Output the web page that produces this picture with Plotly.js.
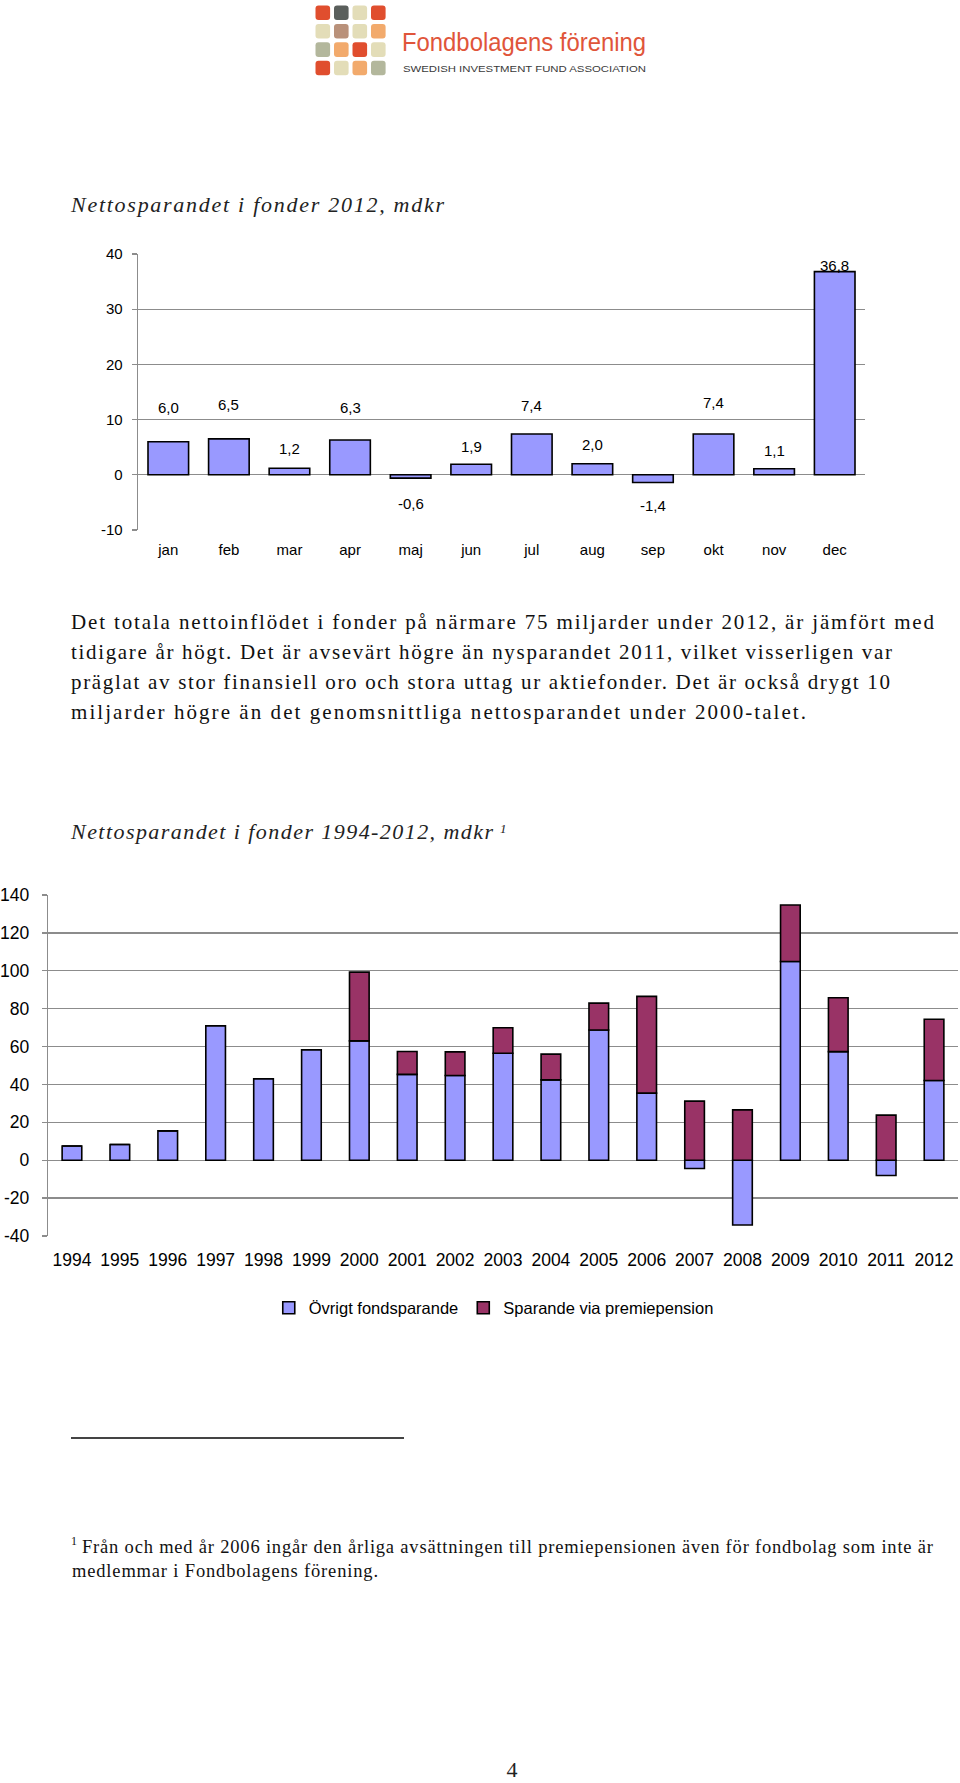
<!DOCTYPE html>
<html><head><meta charset="utf-8">
<script src="https://cdn.plot.ly/plotly-3.0.1.min.js"></script>
<style>
html,body{margin:0;padding:0;background:#fff;}
#page{position:relative;width:960px;height:1783px;overflow:hidden;background:#fff;}
#doc{position:absolute;left:0;top:0;}
#c1{position:absolute;left:0;top:230px;width:960px;height:340px;}
#c2{position:absolute;left:0;top:870px;width:960px;height:470px;}
</style></head><body>
<div id="page">
<svg id="doc" width="960" height="1783" xmlns="http://www.w3.org/2000/svg"></svg>
<div id="c1"></div>
<div id="c2"></div>
</div>
<script>
// ---------- DATA ----------
const months = ['jan','feb','mar','apr','maj','jun','jul','aug','sep','okt','nov','dec'];
const monthlyNet = [6.0, 6.5, 1.2, 6.3, -0.6, 1.9, 7.4, 2.0, -1.4, 7.4, 1.1, 36.8];

const years = ['1994','1995','1996','1997','1998','1999','2000','2001','2002','2003',
               '2004','2005','2006','2007','2008','2009','2010','2011','2012'];
const ovrigtFondsparande = [7.5, 8.3, 15.5, 71.0, 43.0, 58.3, 63.0, 45.3, 44.7, 56.5,
                            42.4, 68.7, 35.4, -4.4, -34.2, 104.9, 57.3, -8.1, 42.1];
const premiepension = [0, 0, 0, 0, 0, 0, 36.3, 12.1, 12.5, 13.4,
                       13.6, 14.2, 51.1, 31.2, 26.6, 29.8, 28.5, 23.8, 32.3];
const seriesNames = ['Övrigt fondsparande', 'Sparande via premiepension'];

const ticks1 = [-10, 0, 10, 20, 30, 40];
const ticks2 = [-40, -20, 0, 20, 40, 60, 80, 100, 120, 140];

const title1 = 'Nettosparandet i fonder 2012, mdkr';
const title2 = 'Nettosparandet i fonder 1994-2012, mdkr';
const paragraph = [
  'Det totala nettoinflödet i fonder på närmare 75 miljarder under 2012, är jämfört med',
  'tidigare år högt. Det är avsevärt högre än nysparandet 2011, vilket visserligen var',
  'präglat av stor finansiell oro och stora uttag ur aktiefonder. Det är också drygt 10',
  'miljarder högre än det genomsnittliga nettosparandet under 2000-talet.'
];
const footnote = [
  'Från och med år 2006 ingår den årliga avsättningen till premiepensionen även för fondbolag som inte är',
  'medlemmar i Fondbolagens förening.'
];

// ---------- DOCUMENT TEXT (SVG) ----------
const NS = 'http://www.w3.org/2000/svg';
const svg = document.getElementById('doc');
function txt(s, x, y, o) {
  const t = document.createElementNS(NS, 'text');
  t.setAttribute('x', x); t.setAttribute('y', y);
  t.setAttribute('font-family', o.family || 'Liberation Serif');
  t.setAttribute('font-size', o.size);
  t.setAttribute('fill', o.color || '#111');
  if (o.italic) t.setAttribute('font-style', 'italic');
  if (o.anchor) t.setAttribute('text-anchor', o.anchor);
  if (o.len) { t.setAttribute('textLength', o.len); t.setAttribute('lengthAdjust', o.adj || 'spacing'); }
  t.textContent = s;
  svg.appendChild(t);
  return t;
}
// logo squares
const logoColors = [
  ['#E04E2E','#5A5F5C','#E3DDB8','#E04E2E'],
  ['#E3DDB8','#B9917A','#E3DDB8','#F2AA6C'],
  ['#B3B79C','#F2AA6C','#E04E2E','#E3DDB8'],
  ['#E04E2E','#E3DDB8','#F2AA6C','#B3B79C']
];
logoColors.forEach((row, r) => row.forEach((c, k) => {
  const q = document.createElementNS(NS, 'rect');
  q.setAttribute('x', 315.5 + k * 18.5); q.setAttribute('y', 5.5 + r * 18.4);
  q.setAttribute('width', 14.6); q.setAttribute('height', 14.6);
  q.setAttribute('rx', 3); q.setAttribute('fill', c);
  svg.appendChild(q);
}));
txt('Fondbolagens förening', 402, 50.5, {family:'Liberation Sans', size:25, color:'#E0553A', len:244, adj:'spacingAndGlyphs'});
txt('SWEDISH INVESTMENT FUND ASSOCIATION', 403, 71.5, {family:'Liberation Sans', size:9.5, color:'#3a3a3a', len:243, adj:'spacingAndGlyphs'});

txt(title1, 71, 212, {size:22, italic:true, color:'#222', len:373});
txt(title2, 71, 839, {size:22, italic:true, color:'#222', len:422});
txt('1', 500, 833, {size:13, italic:true, color:'#222'});

const paraEnds = [934, 892, 890, 806];
paragraph.forEach((s, i) => txt(s, 71, 629 + i * 30, {size:21, color:'#111', len: paraEnds[i] - 71}));

const sep = document.createElementNS(NS, 'line');
sep.setAttribute('x1', 71); sep.setAttribute('x2', 404);
sep.setAttribute('y1', 1438); sep.setAttribute('y2', 1438);
sep.setAttribute('stroke', '#444'); sep.setAttribute('stroke-width', 2);
svg.appendChild(sep);

txt('1', 71, 1545, {size:12, color:'#111'});
txt(footnote[0], 82, 1553, {size:18.5, color:'#111', len: 933 - 82});
txt(footnote[1], 72, 1577, {size:18.5, color:'#111', len: 378 - 72});
txt('4', 512, 1777, {size:22, color:'#222', anchor:'middle'});

// ---------- CHART 1 ----------
const gridCol = '#8c8c8c';
const fmt = v => v.toFixed(1).replace('.', ',');
const labelLift = [34, 34, 20, 33, -25, 18, 28, 19, -23, 31, 18, 6];

Plotly.newPlot('c1', [{
  type: 'bar', x: months, y: monthlyNet,
  marker: {color: '#9999FF', line: {color: '#000', width: 1.6}},
  hoverinfo: 'skip'
}], {
  width: 960, height: 340,
  margin: {l: 138, r: 95, t: 24, b: 40},
  paper_bgcolor: 'rgba(0,0,0,0)', plot_bgcolor: 'rgba(0,0,0,0)',
  bargap: 0.33, showlegend: false,
  font: {family: 'Liberation Sans, Arial, sans-serif', size: 15, color: '#000'},
  xaxis: {type: 'category', showgrid: false, showline: false, zeroline: false,
          ticks: '', ticklabelstandoff: 9, tickfont: {size: 15}},
  yaxis: {range: [-10, 40], tickmode: 'array', tickvals: ticks1, ticktext: ticks1.map(String),
          showgrid: true, gridcolor: gridCol, gridwidth: 1.3,
          zeroline: true, zerolinecolor: gridCol, zerolinewidth: 1.3,
          showline: true, linecolor: gridCol, linewidth: 1.3,
          ticks: 'outside', ticklen: 5, tickcolor: gridCol, tickwidth: 1.3,
          ticklabelstandoff: 6, tickfont: {size: 15}},
  annotations: monthlyNet.map((v, i) => ({
    x: months[i], y: v, xref: 'x', yref: 'y', text: fmt(v), showarrow: false,
    yshift: labelLift[i], yanchor: 'middle', font: {size: 15, color: '#000'}
  }))
}, {displayModeBar: false, staticPlot: true});

// ---------- CHART 2 ----------
Plotly.newPlot('c2', [
  {type: 'bar', name: seriesNames[0], x: years, y: ovrigtFondsparande,
   marker: {color: '#9999FF', line: {color: '#000', width: 1.6}}, hoverinfo: 'skip'},
  {type: 'bar', name: seriesNames[1], x: years, y: premiepension,
   marker: {color: '#993366', line: {color: '#000', width: 1.6}}, hoverinfo: 'skip'}
], {
  width: 960, height: 470,
  margin: {l: 48, r: 2, t: 25, b: 104},
  paper_bgcolor: 'rgba(0,0,0,0)', plot_bgcolor: 'rgba(0,0,0,0)',
  barmode: 'relative', bargap: 0.59,
  font: {family: 'Liberation Sans, Arial, sans-serif', size: 17, color: '#000'},
  xaxis: {type: 'category', showgrid: false, showline: false, zeroline: false,
          ticks: '', ticklabelstandoff: 11, tickfont: {size: 17.5}},
  yaxis: {range: [-40, 140], tickmode: 'array', tickvals: ticks2, ticktext: ticks2.map(String),
          showgrid: true, gridcolor: gridCol, gridwidth: 1.3,
          zeroline: true, zerolinecolor: gridCol, zerolinewidth: 1.3,
          showline: true, linecolor: gridCol, linewidth: 1.3,
          ticks: 'outside', ticklen: 5, tickcolor: gridCol, tickwidth: 1.3,
          ticklabelstandoff: 9, tickfont: {size: 17.5}},
  showlegend: true,
  legend: {orientation: 'h', x: 0.2426, xanchor: 'left', y: -0.211, yanchor: 'middle',
           traceorder: 'normal', itemwidth: 30,
           font: {size: 16.5, color: '#000'}, bgcolor: 'rgba(0,0,0,0)'}
}, {displayModeBar: false, staticPlot: true});
</script>
</body></html>
